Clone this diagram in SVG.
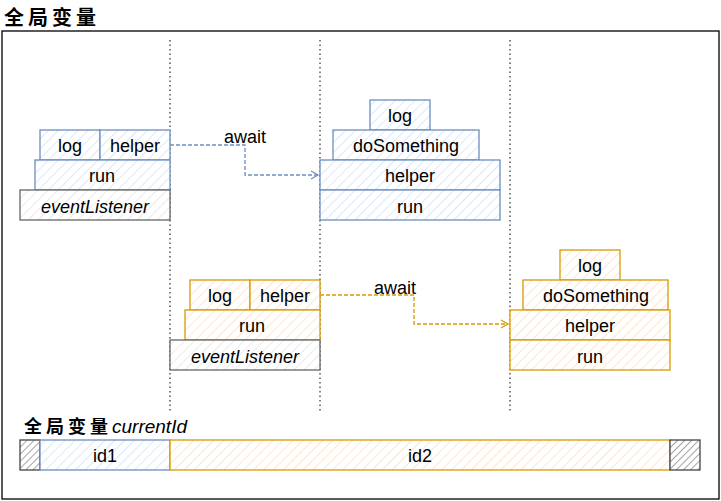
<svg xmlns="http://www.w3.org/2000/svg" width="721" height="501" viewBox="0 0 721 501">
<defs>
<pattern id="hb" width="7" height="7" patternUnits="userSpaceOnUse" patternTransform="rotate(45)"><rect width="7" height="7" fill="#ffffff"/><line x1="0" y1="0" x2="0" y2="7" stroke="#dae8fc" stroke-width="2"/></pattern>
<pattern id="ho" width="7" height="7" patternUnits="userSpaceOnUse" patternTransform="rotate(45)"><rect width="7" height="7" fill="#ffffff"/><line x1="0" y1="0" x2="0" y2="7" stroke="#ffe6cc" stroke-width="2"/></pattern>
<pattern id="hg" width="7" height="7" patternUnits="userSpaceOnUse" patternTransform="rotate(45)"><rect width="7" height="7" fill="#ffffff"/><line x1="0" y1="0" x2="0" y2="7" stroke="#ebebeb" stroke-width="2"/></pattern>
<pattern id="hd" width="5" height="5" patternUnits="userSpaceOnUse" patternTransform="rotate(45)"><rect width="5" height="5" fill="#ffffff"/><line x1="0" y1="0" x2="0" y2="5" stroke="#666666" stroke-width="1.2"/></pattern>
<marker id="ab" markerWidth="10" markerHeight="10" refX="8" refY="5" orient="auto" markerUnits="userSpaceOnUse"><path d="M1,1 L8,5 L1,9" fill="none" stroke="#6c8ebf" stroke-width="1.2"/></marker>
<marker id="ao" markerWidth="10" markerHeight="10" refX="8" refY="5" orient="auto" markerUnits="userSpaceOnUse"><path d="M1,1 L8,5 L1,9" fill="none" stroke="#d79b00" stroke-width="1.2"/></marker>
</defs>
<style>
text{font-family:"Liberation Sans","DejaVu Sans",sans-serif;font-size:18px;fill:#000;text-anchor:middle;}
.b rect{fill:url(#hb);stroke:#6c8ebf;stroke-width:1.3;}
.o rect{fill:url(#ho);stroke:#d79b00;stroke-width:1.3;}
.g rect{fill:url(#hg);stroke:#666666;stroke-width:1.3;}
.d rect{fill:url(#hd);stroke:#444444;stroke-width:1.3;}
.i{font-style:italic;}
.sep{stroke:#000;stroke-width:1;stroke-dasharray:1.5 3;fill:none;}
.cb{stroke:#6c8ebf;stroke-width:1.3;stroke-dasharray:4 2;fill:none;}
.co{stroke:#d79b00;stroke-width:1.3;stroke-dasharray:4 2;fill:none;}
.cjk{font-family:"Noto Sans CJK SC",sans-serif;font-weight:bold;text-anchor:start;}
</style>
<rect width="721" height="501" fill="#ffffff"/>
<text class="cjk" x="4" y="25" style="font-size:20px;letter-spacing:4px">全局变量</text>
<rect id="frame" x="2" y="31" width="717" height="468" fill="none" stroke="#000" stroke-width="1.3"/>
<g id="separators">
<line class="sep" x1="170" y1="40" x2="170" y2="412"/>
<line class="sep" x1="320" y1="40" x2="320" y2="412"/>
<line class="sep" x1="510" y1="40" x2="510" y2="412"/>
</g>
<g id="b-log1" class="b"><rect x="40" y="130" width="60" height="30"/><text x="70" y="152">log</text></g>
<g id="b-helper1" class="b"><rect x="100" y="130" width="70" height="30"/><text x="135" y="152">helper</text></g>
<g id="b-run1" class="b"><rect x="35" y="160" width="135" height="30"/><text x="102" y="182">run</text></g>
<g id="b-event" class="g"><rect x="20" y="190" width="150" height="30"/><text x="95" y="213" class="i">eventListener</text></g>
<g id="b-log2" class="b"><rect x="370" y="100" width="60" height="30"/><text x="400" y="122">log</text></g>
<g id="b-do" class="b"><rect x="333" y="130" width="146" height="30"/><text x="406" y="152">doSomething</text></g>
<g id="b-helper2" class="b"><rect x="320" y="160" width="180" height="30"/><text x="410" y="182">helper</text></g>
<g id="b-run2" class="b"><rect x="320" y="190" width="180" height="30"/><text x="410" y="213">run</text></g>
<g id="o-log1" class="o"><rect x="190" y="280" width="60" height="30"/><text x="220" y="302">log</text></g>
<g id="o-helper1" class="o"><rect x="250" y="280" width="70" height="30"/><text x="285" y="302">helper</text></g>
<g id="o-run1" class="o"><rect x="185" y="310" width="135" height="30"/><text x="252" y="332">run</text></g>
<g id="o-event" class="g"><rect x="170" y="340" width="150" height="30"/><text x="245" y="363" class="i">eventListener</text></g>
<g id="o-log2" class="o"><rect x="560" y="250" width="60" height="30"/><text x="590" y="272">log</text></g>
<g id="o-do" class="o"><rect x="523" y="280" width="145" height="30"/><text x="596" y="302">doSomething</text></g>
<g id="o-helper2" class="o"><rect x="510" y="310" width="160" height="30"/><text x="590" y="332">helper</text></g>
<g id="o-run2" class="o"><rect x="510" y="340" width="160" height="30"/><text x="590" y="363">run</text></g>
<g id="connectors">
<path class="cb" d="M170,145 L245,145 L245,175 L318,175" marker-end="url(#ab)"/>
<path class="co" d="M320,295 L414,295 L414,324 L508,324" marker-end="url(#ao)"/>
</g>
<text x="245" y="143">await</text>
<text x="395" y="294">await</text>
<text class="cjk" x="24" y="433" style="font-size:18px;letter-spacing:4px">全局变量<tspan style="font-family:'Liberation Sans',sans-serif;font-weight:normal;font-style:italic;font-size:19px;letter-spacing:0px">currentId</tspan></text>
<g id="bar-start" class="d"><rect x="20" y="440" width="20" height="30"/></g>
<g id="id1" class="b"><rect x="40" y="440" width="130" height="30"/><text x="105" y="462">id1</text></g>
<g id="id2" class="o"><rect x="170" y="440" width="500" height="30"/><text x="420" y="462">id2</text></g>
<g id="bar-end" class="d"><rect x="670" y="440" width="30" height="30"/></g>
</svg>
